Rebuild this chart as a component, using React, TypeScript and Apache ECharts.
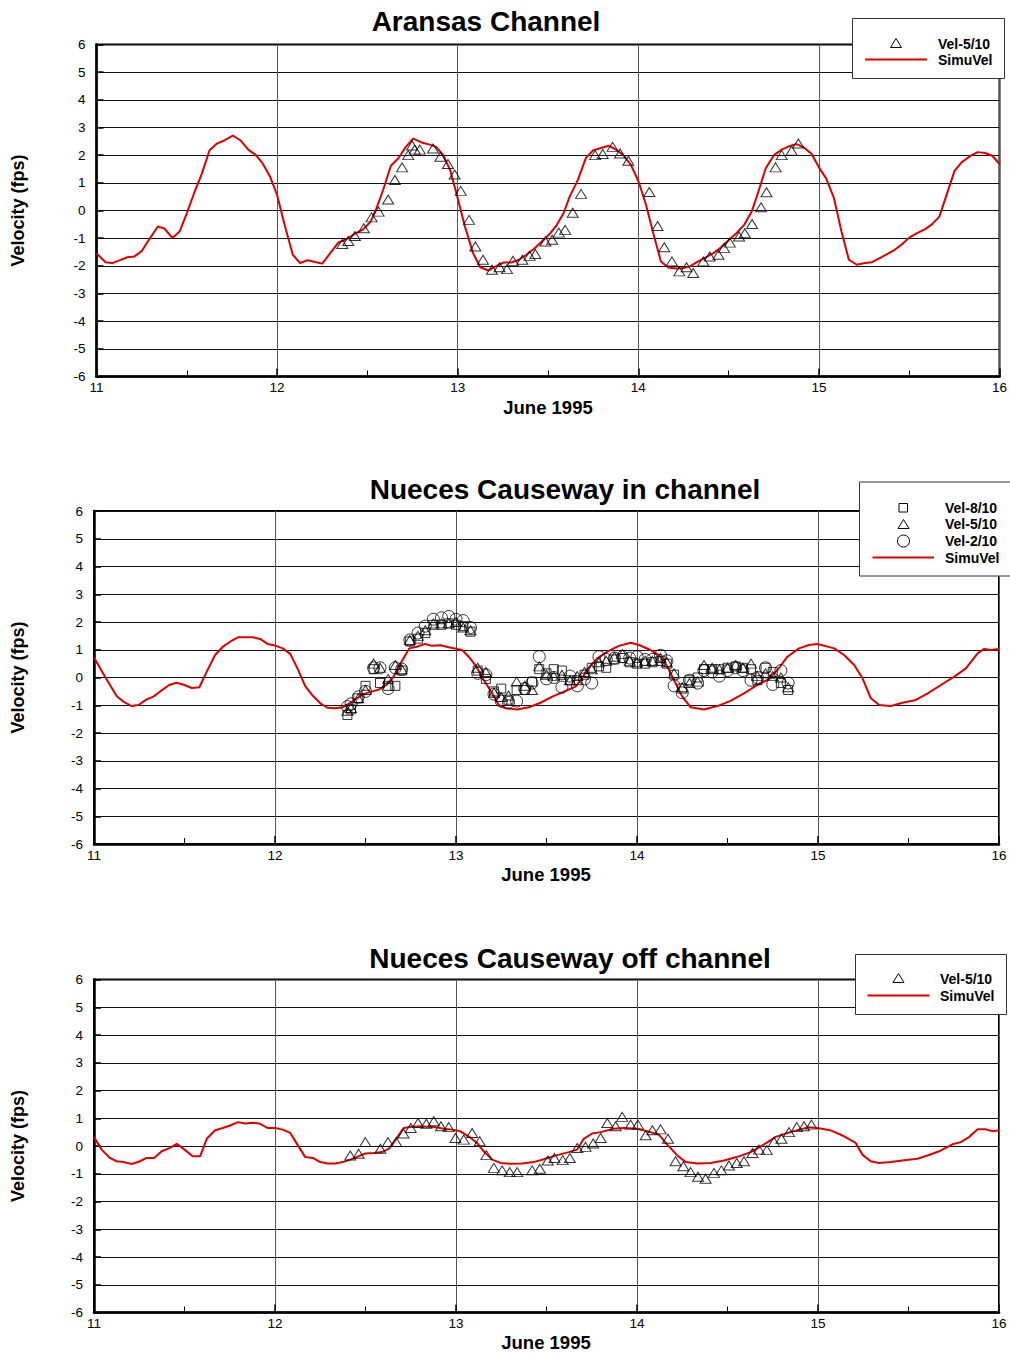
import React, { useEffect, useRef } from "react";
import * as echarts from "echarts";

// ---------- Aransas Channel ----------
const sim1Days = [11.0,11.05,11.087,11.12,11.17,11.21,11.25,11.29,11.34,11.376,11.42,11.46,11.5,11.547,11.584,11.626,11.667,11.71,11.755,11.8,11.84,11.88,11.92,11.96,12.0,12.044,12.087,12.127,12.17,12.21,12.25,12.29,12.34,12.385,12.436,12.477,12.518,12.55,12.587,12.63,12.67,12.713,12.753,12.8,12.84,12.88,12.92,12.958,12.993,13.04,13.085,13.125,13.17,13.21,13.254,13.297,13.34,13.38,13.42,13.46,13.505,13.545,13.586,13.62,13.665,13.71,13.751,13.794,13.836,13.877,13.917,13.96,14.002,14.043,14.083,14.125,14.166,14.208,14.249,14.286,14.327,14.374,14.416,14.457,14.503,14.543,14.586,14.628,14.665,14.705,14.751,14.794,14.834,14.876,14.917,14.96,15.0,15.04,15.083,15.125,15.166,15.21,15.254,15.294,15.337,15.377,15.42,15.46,15.5,15.543,15.586,15.626,15.667,15.709,15.751,15.79,15.84,15.88,15.92,15.96,16.0];
const sim1Vals = [-1.55,-1.87,-1.9,-1.82,-1.69,-1.66,-1.47,-1.06,-0.58,-0.65,-0.99,-0.76,-0.1,0.74,1.34,2.18,2.42,2.54,2.71,2.52,2.2,2.02,1.7,1.24,0.56,-0.58,-1.6,-1.9,-1.8,-1.86,-1.92,-1.58,-1.15,-1.04,-0.82,-0.68,-0.4,0.08,0.74,1.62,1.88,2.3,2.6,2.46,2.39,2.3,2.0,1.46,0.62,-0.58,-1.54,-2.05,-2.17,-2.02,-1.88,-1.88,-1.78,-1.6,-1.4,-1.16,-0.88,-0.56,-0.1,0.5,1.1,1.9,2.18,2.26,2.34,2.2,2.0,1.64,1.04,0.2,-0.82,-1.84,-2.06,-2.1,-2.08,-2.02,-1.86,-1.69,-1.54,-1.34,-1.06,-0.82,-0.52,-0.04,0.68,1.52,2.0,2.2,2.32,2.4,2.28,2.04,1.56,1.16,0.46,-0.76,-1.78,-1.96,-1.9,-1.87,-1.72,-1.58,-1.42,-1.22,-0.98,-0.82,-0.68,-0.5,-0.22,0.6,1.43,1.74,1.98,2.11,2.08,1.98,1.68];
const obs1Days = [12.361,12.394,12.431,12.48,12.523,12.562,12.615,12.652,12.692,12.726,12.748,12.762,12.79,12.863,12.904,12.946,12.983,13.017,13.063,13.098,13.14,13.19,13.232,13.273,13.306,13.358,13.398,13.43,13.486,13.523,13.56,13.595,13.637,13.683,13.761,13.803,13.858,13.899,13.945,14.061,14.107,14.144,14.186,14.227,14.267,14.304,14.36,14.396,14.444,14.475,14.507,14.558,14.59,14.63,14.68,14.71,14.76,14.794,14.849,14.886];
const obs1Vals = [-1.21,-1.1,-0.92,-0.64,-0.25,-0.04,0.4,1.1,1.56,2.0,2.35,2.2,2.2,2.24,1.94,1.68,1.3,0.71,-0.34,-1.3,-1.78,-2.14,-2.05,-2.12,-1.82,-1.78,-1.64,-1.57,-1.12,-1.06,-0.8,-0.7,-0.08,0.6,2.0,2.04,2.3,2.06,1.8,0.67,-0.56,-1.33,-1.84,-2.2,-2.05,-2.26,-1.84,-1.66,-1.6,-1.36,-1.16,-0.94,-0.82,-0.49,0.12,0.66,1.56,2.0,2.16,2.42];

// ---------- Nueces Causeway in channel ----------
const sim2Days = [11.0,11.061,11.125,11.162,11.208,11.245,11.291,11.328,11.37,11.415,11.457,11.5,11.54,11.582,11.623,11.669,11.712,11.752,11.795,11.835,11.878,11.918,11.958,12.001,12.043,12.084,12.124,12.167,12.209,12.25,12.29,12.333,12.375,12.416,12.453,12.49,12.533,12.575,12.616,12.653,12.694,12.742,12.783,12.83,12.867,12.914,12.96,13.034,13.07,13.113,13.153,13.2,13.236,13.273,13.338,13.402,13.467,13.532,13.596,13.66,13.697,13.725,13.78,13.836,13.9,13.965,14.011,14.075,14.121,14.168,14.204,14.25,14.296,14.37,14.444,14.517,14.591,14.665,14.72,14.776,14.831,14.895,14.95,14.997,15.09,15.144,15.2,15.246,15.292,15.338,15.403,15.467,15.541,15.606,15.679,15.753,15.817,15.882,15.918,15.955,16.0];
const sim2Vals = [0.72,0.03,-0.67,-0.87,-1.03,-0.99,-0.79,-0.69,-0.48,-0.27,-0.19,-0.27,-0.38,-0.35,0.21,0.81,1.11,1.29,1.45,1.45,1.45,1.39,1.21,1.15,1.05,0.85,0.33,-0.31,-0.66,-0.93,-1.09,-1.11,-1.07,-0.91,-0.75,-0.59,-0.51,-0.43,-0.27,0.01,0.51,1.05,1.11,1.21,1.14,1.16,1.09,0.99,0.75,0.39,-0.09,-0.57,-0.99,-1.11,-1.15,-1.07,-0.91,-0.69,-0.51,-0.33,-0.03,0.3,0.69,0.93,1.14,1.25,1.17,0.99,0.81,0.39,-0.09,-0.69,-1.07,-1.15,-1.03,-0.84,-0.57,-0.27,-0.09,0.27,0.75,1.05,1.17,1.21,1.05,0.81,0.45,-0.03,-0.75,-0.99,-1.03,-0.91,-0.81,-0.57,-0.27,0.03,0.33,0.87,1.03,0.99,1.03];
const obs2Days = [12.4,12.42,12.46,12.5,12.545,12.58,12.625,12.665,12.7,12.745,12.79,12.83,12.875,12.92,12.96,13.0,13.04,13.08,13.12,13.165,13.21,13.25,13.29,13.335,13.38,13.42,13.46,13.5,13.54,13.585,13.63,13.67,13.71,13.75,13.79,13.83,13.875,13.92,13.96,14.0,14.045,14.085,14.13,14.165,14.205,14.25,14.29,14.335,14.37,14.415,14.455,14.5,14.545,14.585,14.63,14.665,14.71,14.75,14.795,14.835];
const obs2Sq = [-1.35,-1.15,-0.75,-0.3,0.3,-0.2,-0.3,-0.3,0.25,1.3,1.4,1.6,1.9,1.9,1.95,1.9,1.85,1.65,0.25,-0.05,-0.5,-0.4,-0.8,-0.45,-0.45,-0.15,0.3,0.15,0.3,0.25,-0.1,-0.1,0.1,0.35,0.4,0.35,0.65,0.7,0.55,0.5,0.5,0.55,0.6,0.5,0.1,-0.4,-0.1,0.0,0.3,0.3,0.3,0.35,0.4,0.35,0.3,-0.1,0.35,0.2,-0.2,-0.45];
const obs2Tri = [-1.2,-1.1,-0.75,-0.45,0.5,0.35,-0.05,0.45,0.3,1.35,1.5,1.7,1.95,1.95,1.95,2.0,1.8,1.7,0.35,0.2,-0.55,-0.7,-0.65,-0.15,-0.3,-0.45,0.4,0.1,0.05,0.1,-0.1,0.05,0.2,0.3,0.55,0.6,0.75,0.85,0.6,0.55,0.6,0.6,0.7,0.55,0.15,-0.35,-0.2,-0.15,0.45,0.35,0.3,0.35,0.45,0.35,0.5,0.05,0.15,0.05,0.0,-0.35];
const obs2Cir = [-1.05,-0.95,-0.7,-0.5,0.35,0.35,-0.4,0.35,0.3,1.35,1.6,1.85,2.1,2.15,2.2,2.1,2.05,1.8,0.15,0.1,-0.6,-0.85,-0.9,-0.85,-0.4,-0.2,0.75,-0.05,0.0,-0.35,0.05,-0.3,-0.05,-0.2,0.75,0.65,0.7,0.75,0.7,0.75,0.65,0.65,0.8,0.6,-0.3,-0.55,-0.1,-0.2,0.25,0.2,0.05,0.25,0.35,0.25,-0.1,0.0,0.35,-0.25,0.25,-0.2];

// ---------- Nueces Causeway off channel ----------
const sim3Days = [11.0,11.042,11.088,11.125,11.162,11.208,11.254,11.291,11.332,11.374,11.42,11.457,11.5,11.545,11.586,11.623,11.669,11.712,11.752,11.795,11.835,11.878,11.918,11.958,12.001,12.043,12.084,12.124,12.167,12.209,12.25,12.29,12.333,12.375,12.416,12.453,12.499,12.545,12.591,12.628,12.665,12.71,12.757,12.803,12.84,12.886,12.932,12.978,13.024,13.07,13.116,13.153,13.2,13.246,13.301,13.365,13.43,13.494,13.559,13.623,13.67,13.706,13.752,13.799,13.872,13.928,14.001,14.057,14.121,14.167,14.223,14.269,14.333,14.407,14.481,14.555,14.628,14.693,14.767,14.831,14.896,14.951,14.997,15.067,15.144,15.208,15.245,15.291,15.337,15.402,15.476,15.549,15.605,15.669,15.743,15.789,15.836,15.882,15.928,15.965,16.0];
const sim3Vals = [0.32,-0.13,-0.43,-0.55,-0.58,-0.65,-0.55,-0.43,-0.43,-0.19,-0.07,0.08,-0.13,-0.37,-0.37,0.26,0.57,0.65,0.74,0.86,0.81,0.84,0.8,0.65,0.65,0.59,0.47,0.05,-0.4,-0.43,-0.58,-0.63,-0.63,-0.58,-0.49,-0.39,-0.27,-0.25,-0.22,-0.1,0.21,0.65,0.69,0.71,0.69,0.68,0.62,0.59,0.53,0.35,0.11,-0.19,-0.49,-0.61,-0.64,-0.63,-0.58,-0.46,-0.33,-0.22,-0.13,0.26,0.45,0.5,0.62,0.65,0.62,0.53,0.41,0.05,-0.34,-0.58,-0.63,-0.61,-0.52,-0.39,-0.22,0.02,0.33,0.47,0.59,0.68,0.65,0.57,0.35,0.11,-0.31,-0.55,-0.61,-0.58,-0.51,-0.46,-0.34,-0.19,0.06,0.14,0.33,0.6,0.6,0.53,0.57];
const obs3Days = [12.416,12.462,12.499,12.582,12.624,12.67,12.71,12.75,12.79,12.836,12.877,12.917,12.96,12.997,13.043,13.089,13.131,13.168,13.209,13.255,13.297,13.338,13.421,13.463,13.507,13.544,13.59,13.629,13.67,13.716,13.758,13.799,13.836,13.882,13.918,13.965,14.005,14.048,14.085,14.13,14.171,14.213,14.256,14.296,14.337,14.379,14.425,14.466,14.508,14.551,14.591,14.638,14.674,14.717,14.757,14.798,14.84,14.883,14.923,14.964];
const obs3Vals = [-0.34,-0.28,0.14,-0.1,0.14,0.14,0.45,0.65,0.83,0.8,0.89,0.71,0.68,0.29,0.23,0.47,0.17,-0.33,-0.79,-0.88,-0.94,-0.94,-0.88,-0.82,-0.52,-0.43,-0.51,-0.43,-0.07,-0.03,0.09,0.29,0.83,0.71,1.05,0.77,0.77,0.39,0.57,0.6,0.26,-0.55,-0.73,-0.94,-1.11,-1.18,-0.97,-0.88,-0.7,-0.61,-0.55,-0.25,-0.13,-0.15,0.15,0.26,0.5,0.68,0.71,0.77];

const xTickLabels = ["11", "12", "13", "14", "15", "16"];
const titles = ["Aransas Channel", "Nueces Causeway in channel", "Nueces Causeway off channel"];
const yName = "Velocity (fps)";
const xName = "June 1995";

const FONT = "Arial, 'Liberation Sans', sans-serif";
const RED = "#dd0000";

const zip = (xs: number[], ys: number[]) => xs.map((x, i) => [x, ys[i]]);

const grids = [
  { left: 96.5, top: 44.5, width: 904.5, height: 332 },
  { left: 94, top: 511, width: 905, height: 333 },
  { left: 94, top: 979.5, width: 905, height: 333 },
];

function App() {
  const ref = useRef<HTMLDivElement>(null);
  useEffect(() => {
    if (!ref.current) return;
    const chart = echarts.init(ref.current, null, { renderer: "svg" });

    const xAxis = grids.map((_, i) => ({
      type: "value",
      gridIndex: i,
      min: 11,
      max: 16,
      interval: 1,
      axisLine: { show: true, onZero: false, lineStyle: { color: "#000", width: 2.5 } },
      axisTick: { show: true, inside: true, length: 8, lineStyle: { color: "#000", width: 1.5 } },
      minorTick: { show: true, splitNumber: 2, length: 6, lineStyle: { color: "#000", width: 1 } },
      axisLabel: {
        color: "#000",
        fontSize: 13.5,
        fontFamily: FONT,
        margin: 4,
        formatter: (v: number) => xTickLabels[Math.round(v) - 11] ?? "",
      },
      splitLine: { show: true, lineStyle: { color: "#555", width: 1 } },
    }));
    const yAxis = grids.map((_, i) => ({
      type: "value",
      gridIndex: i,
      min: -6,
      max: 6,
      interval: 1,
      axisLine: { show: true, onZero: false, lineStyle: { color: "#000", width: 2.5 } },
      axisTick: { show: true, inside: true, length: 7, lineStyle: { color: "#000", width: 1.5 } },
      axisLabel: { color: "#000", fontSize: 13.5, fontFamily: FONT, margin: 11 },
      splitLine: { show: true, lineStyle: { color: "#111", width: 1 } },
    }));

    const lineSeries = (idx: number, days: number[], vals: number[]) => ({
      name: "SimuVel",
      type: "line",
      xAxisIndex: idx,
      yAxisIndex: idx,
      data: zip(days, vals),
      showSymbol: false,
      symbol: "none",
      lineStyle: { color: RED, width: 2 },
      z: 3,
    });
    const scatterSeries = (idx: number, name: string, symbol: string, size: any, days: number[], vals: number[]) => ({
      name,
      type: "scatter",
      xAxisIndex: idx,
      yAxisIndex: idx,
      data: zip(days, vals),
      symbol,
      symbolSize: size,
      itemStyle: { color: "rgba(255,255,255,0)", borderColor: "#000", borderWidth: 1 },
      z: 4,
    });

    const series = [
      lineSeries(0, sim1Days, sim1Vals),
      scatterSeries(0, "Vel-5/10", "triangle", [11, 9], obs1Days, obs1Vals),
      lineSeries(1, sim2Days, sim2Vals),
      scatterSeries(1, "Vel-8/10", "rect", [9, 9], obs2Days, obs2Sq),
      scatterSeries(1, "Vel-5/10", "triangle", [11, 9], obs2Days, obs2Tri),
      scatterSeries(1, "Vel-2/10", "circle", 12, obs2Days, obs2Cir),
      lineSeries(2, sim3Days, sim3Vals),
      scatterSeries(2, "Vel-5/10", "triangle", [11, 9], obs3Days, obs3Vals),
    ];

    const txt = (text: string, x: number, y: number, font: string, align = "center", rotation = 0) => ({
      type: "text",
      x,
      y,
      rotation,
      z: 100,
      style: { text, font, fill: "#000", textAlign: align, textVerticalAlign: "middle" },
    });
    const tri = (cx: number, cy: number) => ({
      type: "polygon",
      z: 101,
      shape: { points: [[cx - 5.5, cy + 4.5], [cx + 5.5, cy + 4.5], [cx, cy - 4.5]] },
      style: { fill: "none", stroke: "#000", lineWidth: 1 },
    });
    const box = (x: number, y: number, w: number, h: number) => ({
      type: "rect",
      z: 99,
      shape: { x, y, width: w, height: h },
      style: { fill: "#fff", stroke: "#333", lineWidth: 1 },
    });
    const redLine = (x1: number, x2: number, y: number) => ({
      type: "line",
      z: 101,
      shape: { x1, y1: y, x2, y2: y },
      style: { stroke: RED, lineWidth: 2 },
    });
    const LF = `bold 14px ${FONT}`;

    const titleY = [21, 489, 958];
    const titleX = [486, 565, 570];
    const graphic: any[] = [];
    grids.forEach((g, i) => {
      graphic.push(txt(titles[i], titleX[i], titleY[i], `bold 28px ${FONT}`));
      graphic.push(txt(yName, 18, g.top + g.height / 2, `bold 18px ${FONT}`, "center", Math.PI / 2));
    });
    graphic.push(txt(xName, 548, 407, `bold 18.5px ${FONT}`));
    graphic.push(txt(xName, 546, 874, `bold 18.5px ${FONT}`));
    graphic.push(txt(xName, 546, 1342, `bold 18.5px ${FONT}`));

    // legend 1
    graphic.push(box(852.5, 18.5, 152, 60));
    graphic.push(tri(896, 43));
    graphic.push(txt("Vel-5/10", 938, 43.5, LF, "left"));
    graphic.push(redLine(865, 927, 59.5));
    graphic.push(txt("SimuVel", 938, 59.5, LF, "left"));
    // legend 2
    graphic.push(box(859.5, 482, 160, 94));
    graphic.push({ type: "rect", z: 101, shape: { x: 899, y: 503.5, width: 8.5, height: 8.5 }, style: { fill: "none", stroke: "#000", lineWidth: 1 } });
    graphic.push(txt("Vel-8/10", 945, 508, LF, "left"));
    graphic.push(tri(903.5, 524));
    graphic.push(txt("Vel-5/10", 945, 524, LF, "left"));
    graphic.push({ type: "circle", z: 101, shape: { cx: 903.5, cy: 541, r: 6 }, style: { fill: "none", stroke: "#000", lineWidth: 1 } });
    graphic.push(txt("Vel-2/10", 945, 541, LF, "left"));
    graphic.push(redLine(872.5, 934, 557.5));
    graphic.push(txt("SimuVel", 945, 557.5, LF, "left"));
    // legend 3
    graphic.push(box(855.5, 954.5, 151, 60));
    graphic.push(tri(898.5, 978));
    graphic.push(txt("Vel-5/10", 940, 978.5, LF, "left"));
    graphic.push(redLine(867.5, 929.5, 995.5));
    graphic.push(txt("SimuVel", 940, 995.5, LF, "left"));

    chart.setOption({
      animation: false,
      backgroundColor: "#fff",
      textStyle: { fontFamily: FONT },
      grid: grids.map((g) => ({ ...g, show: true, borderColor: "#000", borderWidth: 2, backgroundColor: "transparent" })),
      xAxis,
      yAxis,
      series,
      graphic,
    });
    return () => chart.dispose();
  }, []);
  return <div ref={ref} style={{ position: "absolute", left: 0, top: 0, width: 1010, height: 1353 }} />;
}

export default App;
